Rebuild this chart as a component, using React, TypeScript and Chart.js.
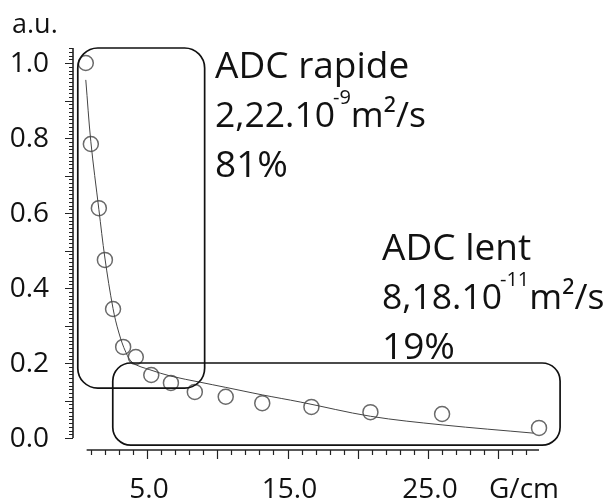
import React, { useEffect, useRef } from "react";
import { Chart, registerables } from "chart.js";

Chart.register(...registerables);

// Measured points (gradient G/cm, normalised signal a.u.)
const gradient = [0.64, 1.0, 1.57, 2.0, 2.58, 3.3, 4.2, 5.3, 6.7, 8.4, 10.6, 13.2, 16.7, 20.9, 26.0, 32.9];
const signal = [1.0, 0.784, 0.613, 0.475, 0.344, 0.243, 0.216, 0.168, 0.147, 0.123, 0.11, 0.093, 0.083, 0.069, 0.064, 0.027];

// Fitted curve
const fitGradient = [0.64, 1.0, 1.57, 2.0, 2.58, 3.0, 3.5, 4.0, 5.2, 6.7, 8.75, 10.6, 13.2, 15.9, 20.9, 26.0, 32.5];
const fitSignal = [0.955, 0.79, 0.61, 0.48, 0.345, 0.28, 0.228, 0.2, 0.182, 0.165, 0.149, 0.135, 0.115, 0.096, 0.058, 0.035, 0.013];

// Axis ticks
const xTickValues = [5, 15, 25];
const xTickLabels = ["5.0", "15.0", "25.0"];
const yTickValues = [0, 0.2, 0.4, 0.6, 0.8, 1.0];
const yTickLabels = ["0.0", "0.2", "0.4", "0.6", "0.8", "1.0"];
const xUnit = "G/cm";
const yUnit = "a.u.";

// Annotation boxes in data coordinates [x0, x1, yTop, yBottom]
const fastBox = [0.07, 9.1, 1.04, 0.133];
const slowBox = [2.56, 34.4, 0.2, -0.019];

const fastText = ["ADC rapide", "2,22.10", "-9", "m²/s", "81%"];
const slowText = ["ADC lent", "8,18.10", "-11", "m²/s", "19%"];

const FONT = "'Open Sans', 'DejaVu Sans', sans-serif";

const overlay = {
  id: "overlay",
  afterDatasetsDraw(chart: any) {
    const ctx: CanvasRenderingContext2D = chart.ctx;
    const xs = chart.scales.x;
    const ys = chart.scales.y;
    const px = (v: number) => xs.getPixelForValue(v);
    const py = (v: number) => ys.getPixelForValue(v);
    ctx.save();

    // boxes
    ctx.strokeStyle = "#111";
    ctx.lineWidth = 1.7;
    const box = (b: number[], r: number) => {
      ctx.beginPath();
      (ctx as any).roundRect(px(b[0]), py(b[2]), px(b[1]) - px(b[0]), py(b[3]) - py(b[2]), r);
      ctx.stroke();
    };
    box(fastBox, 20);
    box(slowBox, 18);

    // y axis
    ctx.strokeStyle = "#222";
    ctx.lineWidth = 1.6;
    const yAxisX = px(-0.27);
    ctx.beginPath();
    ctx.moveTo(yAxisX, py(0));
    ctx.lineTo(yAxisX, py(1.04));
    ctx.stroke();
    ctx.lineWidth = 1;
    for (let i = 0; i <= 104; i++) {
      const y = Math.round(py(i / 100)) + 0.5;
      const len = i % 10 === 0 ? 8 : 4;
      ctx.beginPath();
      ctx.moveTo(yAxisX, y);
      ctx.lineTo(yAxisX - len, y);
      ctx.stroke();
    }
    // x axis
    const xAxisY = py(-0.032);
    ctx.lineWidth = 1.6;
    ctx.beginPath();
    ctx.moveTo(px(0.7), xAxisY);
    ctx.lineTo(px(32.9), xAxisY);
    ctx.stroke();
    ctx.lineWidth = 1.2;
    for (let i = 1; i <= 32; i++) {
      const x = Math.round(px(i)) + 0.5;
      const len = i % 5 === 0 ? 9 : 5;
      ctx.beginPath();
      ctx.moveTo(x, xAxisY);
      ctx.lineTo(x, xAxisY + len);
      ctx.stroke();
    }

    // tick labels
    ctx.fillStyle = "#111";
    ctx.font = `28px ${FONT}`;
    ctx.textAlign = "right";
    ctx.textBaseline = "middle";
    yTickValues.forEach((v, i) => ctx.fillText(yTickLabels[i], 49, py(v) + 1));
    ctx.textAlign = "center";
    ctx.textBaseline = "alphabetic";
    xTickValues.forEach((v, i) => ctx.fillText(xTickLabels[i], px(v) + 2, 498));
    ctx.textAlign = "left";
    ctx.fillText(xUnit, 489, 498);
    ctx.font = `27px ${FONT}`;
    ctx.fillText(yUnit, 12, 33);

    // annotations
    const big = `37px ${FONT}`;
    const mid = `35.5px ${FONT}`;
    const sup = `20px ${FONT}`;
    const block = (t: string[], x: number, y: number) => {
      ctx.textAlign = "left";
      ctx.font = big;
      ctx.fillText(t[0], x, y);
      ctx.fillText(t[4], x, y + 99);
      ctx.font = mid;
      ctx.fillText(t[1], x, y + 49);
      let w = ctx.measureText(t[1]).width;
      ctx.font = sup;
      ctx.fillText(t[2], x + w - 2, y + 49 - 23);
      w += ctx.measureText(t[2]).width - 2;
      ctx.font = mid;
      ctx.fillText(t[3], x + w, y + 49);
    };
    block(fastText, 215, 78);
    block(slowText, 382, 260);

    ctx.restore();
  },
};

export default function App() {
  const ref = useRef<HTMLCanvasElement | null>(null);
  useEffect(() => {
    if (!ref.current) return;
    const chart = new Chart(ref.current, {
      type: "scatter",
      data: {
        datasets: [
          {
            type: "line",
            data: fitGradient.map((x, i) => ({ x, y: fitSignal[i] })),
            borderColor: "#444",
            borderWidth: 1,
            pointRadius: 0,
            tension: 0.35,
            fill: false,
          } as any,
          {
            data: gradient.map((x, i) => ({ x, y: signal[i] })),
            borderColor: "#6a6a6a",
            backgroundColor: "rgba(255,255,255,0)",
            borderWidth: 1.5,
            pointRadius: 7.5,
            pointStyle: "circle",
            showLine: false,
          },
        ],
      },
      options: {
        animation: false,
        responsive: false,
        devicePixelRatio: 1,
        layout: { padding: { left: 76.8, right: 48.5, top: 44.25, bottom: 47 } },
        plugins: { legend: { display: false }, tooltip: { enabled: false } },
        scales: {
          x: { type: "linear", min: 0, max: 34.5, display: false },
          y: { type: "linear", min: -0.04, max: 1.05, display: false },
        },
      },
      plugins: [overlay],
    });
    return () => chart.destroy();
  }, []);
  return (
    <div style={{ position: "absolute", left: 0, top: 0, width: 610, height: 500, background: "#fff" }}>
      <canvas ref={ref} width={610} height={500} />
    </div>
  );
}
